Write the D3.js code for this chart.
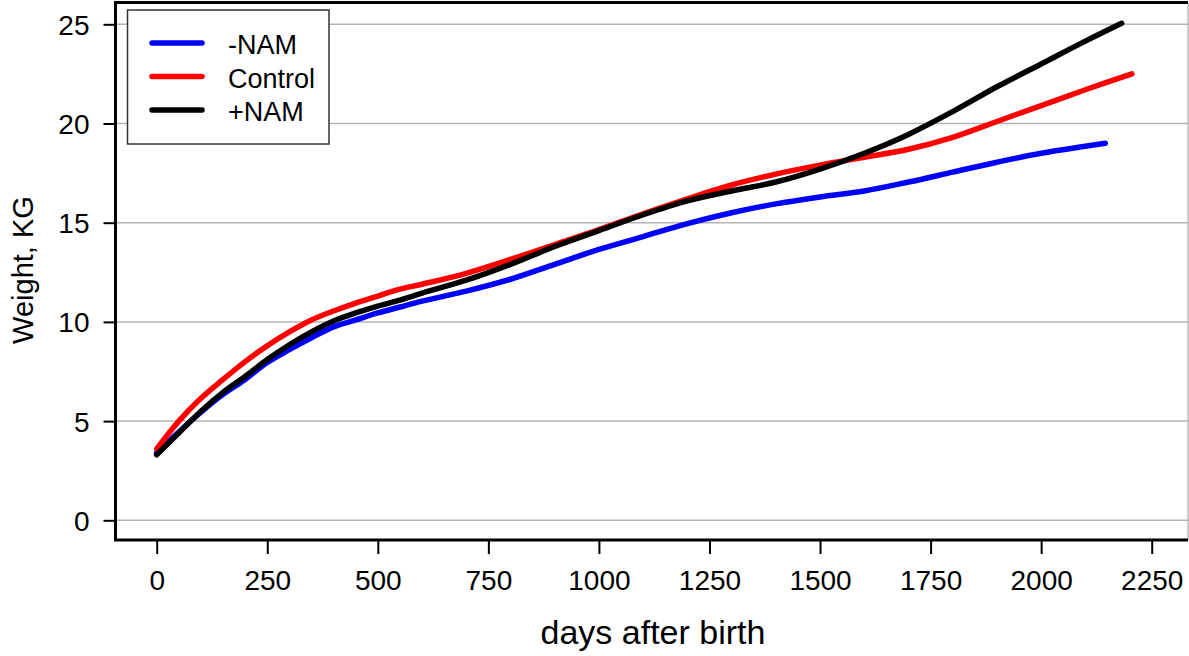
<!DOCTYPE html>
<html>
<head>
<meta charset="utf-8">
<script src="https://cdn.jsdelivr.net/npm/d3@7"></script>
<style>
  body { margin: 0; background: #fff; }
  text { font-family: "Liberation Sans", Arial, sans-serif; fill: #000; }
</style>
</head>
<body>
<svg width="1189" height="656"></svg>
<script>
const width = 1189;
const height = 656;

// days after birth, one list per series
const minusDays = [0, 50, 100, 150, 200, 250, 300, 350, 400, 450, 500, 550, 600, 700, 800, 900, 1000, 1100, 1200, 1300, 1400, 1500, 1600, 1700, 1800, 1900, 2000, 2100, 2145];
const minusWeight = [3.4, 4.45, 5.45, 6.35, 7.1, 7.95, 8.6, 9.2, 9.75, 10.1, 10.45, 10.75, 11.05, 11.55, 12.15, 12.9, 13.65, 14.3, 14.95, 15.5, 15.95, 16.3, 16.6, 17.05, 17.55, 18.05, 18.5, 18.85, 19.0];

const controlDays = [0, 50, 100, 150, 200, 250, 300, 350, 400, 450, 500, 550, 600, 700, 800, 900, 1000, 1100, 1200, 1300, 1400, 1500, 1600, 1700, 1800, 1900, 2000, 2100, 2205];
const controlWeight = [3.6, 5.0, 6.15, 7.1, 8.0, 8.8, 9.5, 10.1, 10.55, 10.95, 11.3, 11.65, 11.9, 12.45, 13.15, 13.9, 14.65, 15.45, 16.2, 16.9, 17.45, 17.9, 18.3, 18.7, 19.3, 20.1, 20.9, 21.7, 22.5];

const plusDays = [0, 50, 100, 150, 200, 250, 300, 350, 400, 450, 500, 550, 600, 700, 800, 900, 1000, 1100, 1200, 1300, 1400, 1500, 1600, 1700, 1800, 1900, 2000, 2100, 2182];
const plusWeight = [3.3, 4.4, 5.5, 6.45, 7.25, 8.1, 8.85, 9.5, 10.05, 10.45, 10.8, 11.1, 11.45, 12.1, 12.9, 13.8, 14.6, 15.4, 16.1, 16.6, 17.05, 17.7, 18.5, 19.45, 20.6, 21.85, 23.0, 24.15, 25.05];

const seriesNames = ["-NAM", "Control", "+NAM"];
const seriesColors = ["#0000ff", "#ff0000", "#000000"];

const xTicks = [0, 250, 500, 750, 1000, 1250, 1500, 1750, 2000, 2250];
const yTicks = [0, 5, 10, 15, 20, 25];

const series = [
  { name: seriesNames[0], color: seriesColors[0], days: minusDays, weight: minusWeight },
  { name: seriesNames[1], color: seriesColors[1], days: controlDays, weight: controlWeight },
  { name: seriesNames[2], color: seriesColors[2], days: plusDays, weight: plusWeight }
];

const box = { left: 115.5, right: 1188, top: 2.5, bottom: 540 };

let x = d3.scaleLinear().domain([0, 2250]).range([156.7, 1151.7]);
let y = d3.scaleLinear().domain([0, 25]).range([520.3, 24.3]);

const svg = d3.select("svg");

// grid lines
svg.append("g")
  .selectAll("line")
  .data(yTicks)
  .join("line")
  .attr("x1", box.left)
  .attr("x2", box.right)
  .attr("y1", d => y(d))
  .attr("y2", d => y(d))
  .attr("stroke", "#b4b4b4")
  .attr("stroke-width", 1.5);

// axes
const yAxis = d3.axisLeft(y).tickValues(yTicks).tickFormat(d3.format("d")).tickSize(12).tickPadding(14);
svg.append("g")
  .attr("transform", `translate(${box.left},0)`)
  .call(yAxis)
  .call(g => g.select(".domain").remove())
  .call(g => g.selectAll("line").attr("stroke", "#000").attr("stroke-width", 2))
  .call(g => g.selectAll("text").attr("font-size", 28).attr("font-family", "Liberation Sans, Arial, sans-serif").attr("dy", "0.36em"));

const xAxis = d3.axisBottom(x).tickValues(xTicks).tickFormat(d3.format("d")).tickSize(14).tickPadding(16);
svg.append("g")
  .attr("transform", `translate(0,${box.bottom})`)
  .call(xAxis)
  .call(g => g.select(".domain").remove())
  .call(g => g.selectAll("line").attr("stroke", "#000").attr("stroke-width", 2))
  .call(g => g.selectAll("text").attr("font-size", 28).attr("font-family", "Liberation Sans, Arial, sans-serif"));

// frame
svg.append("line")
  .attr("x1", box.right).attr("x2", box.right)
  .attr("y1", box.top).attr("y2", box.bottom)
  .attr("stroke", "#999").attr("stroke-width", 1);
svg.append("path")
  .attr("d", `M${box.right},${box.top}H${box.left}V${box.bottom}H${box.right}`)
  .attr("fill", "none")
  .attr("stroke", "#000")
  .attr("stroke-width", 3);

// curves
let line = d3.line()
  .x(d => x(d[0]))
  .y(d => y(d[1]))
  .curve(d3.curveCatmullRom.alpha(0.5));

svg.append("g")
  .selectAll("path")
  .data(series)
  .join("path")
  .attr("d", d => line(d.days.map((v, i) => [v, d.weight[i]])))
  .attr("fill", "none")
  .attr("stroke", d => d.color)
  .attr("stroke-width", 5.5)
  .attr("stroke-linecap", "round")
  .attr("stroke-linejoin", "round");

// axis titles
svg.append("text")
  .attr("x", 653)
  .attr("y", 644)
  .attr("text-anchor", "middle")
  .attr("font-size", 34)
  .text("days after birth");

svg.append("text")
  .attr("transform", "translate(33,270) rotate(-90)")
  .attr("text-anchor", "middle")
  .attr("font-size", 29)
  .text("Weight, KG");

// legend
const legend = svg.append("g");
legend.append("rect")
  .attr("x", 127.5)
  .attr("y", 10)
  .attr("width", 201.5)
  .attr("height", 134)
  .attr("fill", "#fff")
  .attr("stroke", "#333")
  .attr("stroke-width", 1.5);

const legendY = d3.scalePoint().domain(seriesNames).range([43, 110]);

legend.selectAll(".key")
  .data(series)
  .join("line")
  .attr("class", "key")
  .attr("x1", 152)
  .attr("x2", 202)
  .attr("y1", d => legendY(d.name))
  .attr("y2", d => legendY(d.name))
  .attr("stroke", d => d.color)
  .attr("stroke-width", 5.5)
  .attr("stroke-linecap", "round");

legend.selectAll(".label")
  .data(series)
  .join("text")
  .attr("class", "label")
  .attr("x", 228)
  .attr("y", d => legendY(d.name) + 2)
  .attr("dy", "0.35em")
  .attr("font-size", 27)
  .text(d => d.name);
</script>
</body>
</html>
